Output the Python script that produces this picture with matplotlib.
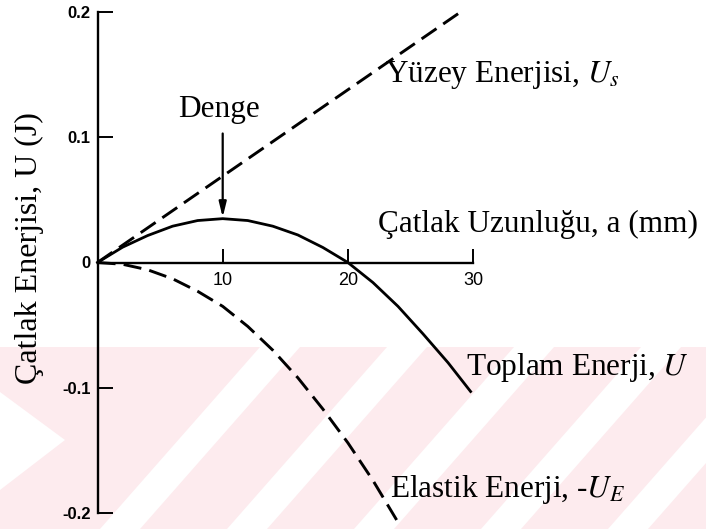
import matplotlib
matplotlib.use("Agg")
import matplotlib.pyplot as plt
from matplotlib.patches import Polygon

# Crack length a (mm) and energies (J)
a_surface = [0.0, 29.0]
u_surface = [0.0, 0.200]

a_total = [0, 2, 4, 6, 8, 10, 12, 14, 16, 18, 20, 22, 24, 26, 28, 29.8]
u_total = [0.0, 0.0122, 0.0215, 0.0290, 0.0335, 0.0350, 0.0335, 0.0290,
           0.0220, 0.0120, 0.0, -0.0160, -0.0350, -0.0570, -0.0800, -0.1030]

a_elastic = [0, 2, 4, 6, 8, 10, 12, 14, 16, 18, 20, 22, 24.1]
u_elastic = [0.0, -0.0014, -0.0058, -0.0130, -0.0230, -0.0350, -0.0510,
             -0.0700, -0.0920, -0.1170, -0.1440, -0.1740, -0.2090]

a_equilibrium = 10
u_equilibrium = 0.0350

x_ticks = [10, 20, 30]
x_tick_labels = ["10", "20", "30"]
y_ticks = [-0.2, -0.1, 0.0, 0.1, 0.2]
y_tick_labels = ["-0.2", "-0.1", "0", "0.1", "0.2"]

SERIF = "Liberation Serif"
LABEL_SIZE = 22.5
plt.rcParams["mathtext.fontset"] = "stix"

W, H = 706, 529
fig = plt.figure(figsize=(W / 100, H / 100), dpi=100)
fig.patch.set_facecolor("white")

# faint diagonal watermark band in the lower part of the page (pixel units)
pink = "#fdebee"
def px(x, y):
    return (x / W, 1 - y / H)
TOP, BOT, SHIFT = 347, 529, 160
stripes = [
    # left block with a white wedge cut into it
    [(0, TOP), (SHIFT + 100, TOP), (100, BOT), (0, BOT), (0, 490),
     (65, 440), (0, 392)],
]
for b in (140, 267, 394, 521, 648):
    stripes.append([(b, BOT), (b + SHIFT, TOP), (b + SHIFT + 87, TOP),
                    (b + 87, BOT)])
for s in stripes:
    fig.patches.append(Polygon([px(*p) for p in s], closed=True,
                               transform=fig.transFigure, facecolor=pink,
                               edgecolor="none", zorder=0))

ax = fig.add_axes([0, 0, 1, 1])
ax.set_zorder(2)
ax.patch.set_alpha(0)
ax.set_xlim(-97.5 / 12.52, (W - 97.5) / 12.52)
ax.set_ylim((262.5 - H) / 1252.5, 262.5 / 1252.5)

for side in ("top", "right"):
    ax.spines[side].set_visible(False)
ax.spines["left"].set_position(("data", 0))
ax.spines["bottom"].set_position(("data", 0))
ax.spines["left"].set_bounds(-0.2, 0.2)
ax.spines["bottom"].set_bounds(0, 30)
for side in ("left", "bottom"):
    ax.spines[side].set_linewidth(1.7)
    ax.spines[side].set_color("black")

ax.set_xticks(x_ticks)
ax.set_xticklabels(x_tick_labels, fontname="Liberation Sans", fontsize=13)
ax.set_yticks(y_ticks)
ax.set_yticklabels(y_tick_labels, fontname="Liberation Sans", fontsize=12,
                   fontweight="bold")
ax.tick_params(axis="x", direction="in", length=10, width=1.4, pad=7)
ax.tick_params(axis="y", direction="in", length=11, width=1.4, pad=5)

dash = (6.2, 2.8)
ax.plot(a_surface, u_surface, color="black", lw=2.1, dashes=dash)
ax.plot(a_total, u_total, color="black", lw=2.0)
ax.plot(a_elastic, u_elastic, color="black", lw=2.1, dashes=dash)

ax.annotate("", xy=(a_equilibrium, u_equilibrium + 0.001),
            xytext=(a_equilibrium, 0.103),
            arrowprops=dict(arrowstyle="-|>,head_length=0.9,head_width=0.22",
                            color="black", lw=1.6, shrinkA=0, shrinkB=0))
ax.text(a_equilibrium - 0.3, 0.116, "Denge", fontname=SERIF,
        fontsize=LABEL_SIZE, ha="center", va="baseline")

ax.text(23.0, 0.1445, "Yüzey Enerjisi, $U_s$", fontname=SERIF,
        fontsize=LABEL_SIZE, ha="left", va="baseline")
ax.text(29.4, -0.090, "Toplam Enerji, $U$", fontname=SERIF,
        fontsize=LABEL_SIZE, ha="left", va="baseline")
ax.text(23.4, -0.187, "Elastik Enerji, -$U_E$", fontname=SERIF,
        fontsize=LABEL_SIZE, ha="left", va="baseline")

ax.set_xlabel("Çatlak Uzunluğu, a (mm)", fontname=SERIF, fontsize=LABEL_SIZE,
              ha="left", va="baseline")
ax.xaxis.set_label_coords(378 / W, 1 - 232 / H)
ax.set_ylabel("Çatlak Enerjisi, U (J)", fontname=SERIF, fontsize=23,
              ha="center", va="center")
ax.yaxis.set_label_coords(29 / W, 1 - 248 / H)

fig.savefig("out.png", dpi=100, facecolor="white")
